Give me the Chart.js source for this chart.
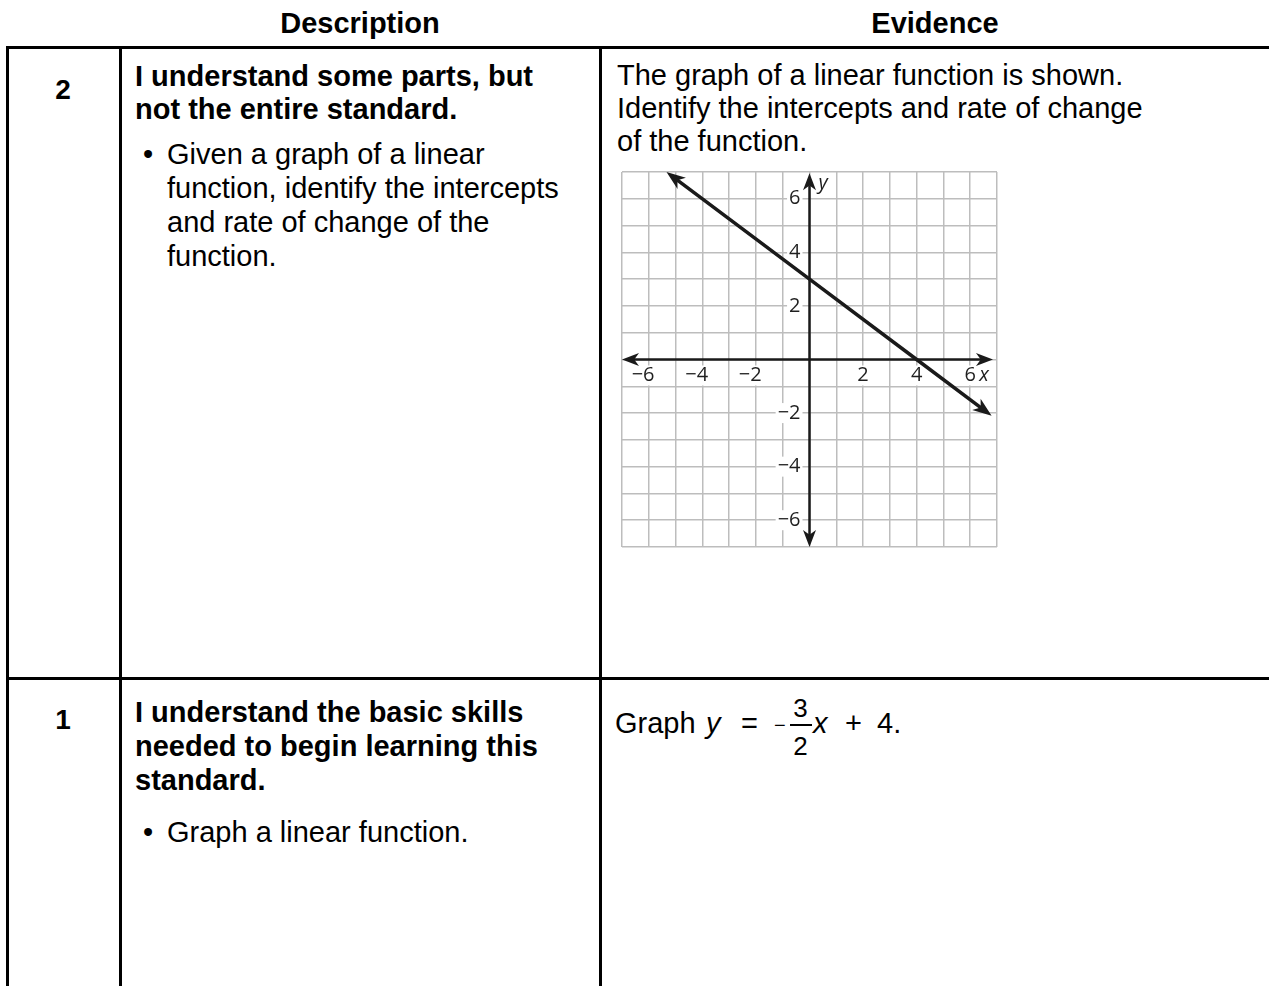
<!DOCTYPE html>
<html><head><meta charset="utf-8">
<script src="https://cdn.jsdelivr.net/npm/chart.js@4.4.0/dist/chart.umd.min.js"></script>
<style>
html,body{margin:0;padding:0;background:#fff;}
body{width:1269px;height:986px;overflow:hidden;position:relative;font-family:"Liberation Sans",Arial,sans-serif;color:#000;}
.t{position:absolute;white-space:nowrap;line-height:1;font-size:29px;}
.b{font-weight:bold;}
.hl{position:absolute;background:#000;height:3px;}
.vl{position:absolute;background:#000;width:3px;}
#gwrap{position:absolute;left:612px;top:162px;width:395px;height:395px;}
</style></head><body>

<div class="t b" style="left:120px;width:480px;text-align:center;top:8.5px;">Description</div>
<div class="t b" style="left:600px;width:670px;text-align:center;top:8.5px;">Evidence</div>

<div class="hl" style="left:6px;top:46px;width:1263px;"></div>
<div class="hl" style="left:6px;top:677px;width:1263px;"></div>
<div class="vl" style="left:6px;top:46px;height:940px;"></div>
<div class="vl" style="left:119px;top:46px;height:940px;"></div>
<div class="vl" style="left:599px;top:46px;height:940px;"></div>

<!-- row 2 -->
<div class="t b" style="left:7px;width:112px;text-align:center;top:76.3px;font-size:28px;">2</div>
<div class="t b" style="left:135px;top:61.5px;">I understand some parts, but</div>
<div class="t b" style="left:135px;top:94.5px;">not the entire standard.</div>
<div class="t" style="left:143px;top:140px;">•</div>
<div class="t" style="left:167px;top:140px;">Given a graph of a linear</div>
<div class="t" style="left:167px;top:174px;">function, identify the intercepts</div>
<div class="t" style="left:167px;top:207.5px;">and rate of change of the</div>
<div class="t" style="left:167px;top:241.5px;">function.</div>
<div class="t" style="left:617px;top:60.5px;">The graph of a linear function is shown.</div>
<div class="t" style="left:617px;top:93.5px;">Identify the intercepts and rate of change</div>
<div class="t" style="left:617px;top:126.5px;">of the function.</div>

<div id="gwrap"><canvas id="c" width="395" height="395"></canvas></div>

<!-- row 1 -->
<div class="t b" style="left:7px;width:112px;text-align:center;top:706.3px;font-size:28px;">1</div>
<div class="t b" style="left:135px;top:697.5px;">I understand the basic skills</div>
<div class="t b" style="left:135px;top:731.5px;">needed to begin learning this</div>
<div class="t b" style="left:135px;top:765.5px;">standard.</div>
<div class="t" style="left:143px;top:817.5px;">•</div>
<div class="t" style="left:167px;top:817.5px;">Graph a linear function.</div>

<div class="t" style="left:615px;top:708.5px;">Graph</div>
<div class="t" style="left:706px;top:708.5px;font-style:italic;">y</div>
<div class="t" style="left:741px;top:708.5px;">=</div>
<div class="t" style="left:774px;top:714.7px;font-size:20px;">−</div>
<div class="t" style="left:788px;width:25px;text-align:center;top:695px;font-size:26px;">3</div>
<div style="position:absolute;left:790px;top:724px;width:22px;height:1.6px;background:#000;"></div>
<div class="t" style="left:788px;width:25px;text-align:center;top:733px;font-size:26px;">2</div>
<div class="t" style="left:813px;top:708.5px;font-style:italic;">x</div>
<div class="t" style="left:845px;top:708.5px;">+</div>
<div class="t" style="left:877px;top:708.5px;">4.</div>

<script>
// ---- chart data ----
const xRange = [-7, 7];
const yRange = [-7, 7];
const xTickValues = [-6, -4, -2, 2, 4, 6];
const yTickValues = [-6, -4, -2, 2, 4, 6];
const xAxisEnds = [-7, 6.85];
const yAxisEnds = [-7, 6.95];
const lineX = [-5.07, 0, 4, 6.53];
const lineY = [6.8, 3, 0, -1.9];
const axisLabelX = 'x';
const axisLabelY = 'y';

const linePoints = lineX.map((x, i) => ({x: x, y: lineY[i]}));
const INK = '#1a1a1a';
const LABEL = '#1f1f1f';

function arrowHead(ctx, tipX, tipY, ang, len, half) {
  ctx.save();
  ctx.translate(tipX, tipY);
  ctx.rotate(ang);
  ctx.beginPath();
  ctx.moveTo(0, 0);
  ctx.lineTo(-len, -half);
  ctx.lineTo(-len * 0.72, 0);
  ctx.lineTo(-len, half);
  ctx.closePath();
  ctx.fillStyle = INK;
  ctx.fill();
  ctx.restore();
}

const decor = {
  id: 'decor',
  beforeDatasetsDraw(chart) {
    const ctx = chart.ctx;
    const xs = chart.scales.x, ys = chart.scales.y;
    const x0 = xs.getPixelForValue(0), y0 = ys.getPixelForValue(0);
    ctx.save();
    ctx.font = '20px "Open Sans", "DejaVu Sans", sans-serif';
    ctx.textBaseline = 'middle';
    ctx.textAlign = 'left';
    const cyX = y0 + 16;
    xTickValues.forEach(v => {
      const gx = xs.getPixelForValue(v);
      const digit = String(Math.abs(v));
      const minus = v < 0 ? '\u2212' : '';
      const dw = ctx.measureText(digit).width, mw = ctx.measureText(minus).width;
      const left = gx - dw / 2 - mw;
      ctx.fillStyle = '#fff';
      ctx.fillRect(left - 2, cyX - 10, dw + mw + 4, 20);
      ctx.fillStyle = LABEL;
      ctx.fillText(minus + digit, left, cyX);
    });
    yTickValues.forEach(v => {
      const gy = ys.getPixelForValue(v);
      const txt = (v < 0 ? '\u2212' : '') + String(Math.abs(v));
      const w = ctx.measureText(txt).width;
      const right = x0 - 9;
      ctx.fillStyle = '#fff';
      ctx.fillRect(right - w - 2, gy - 10, w + 4, 20);
      ctx.fillStyle = LABEL;
      ctx.fillText(txt, right - w, gy);
    });
    ctx.font = 'italic 20px "Open Sans", "DejaVu Sans", sans-serif';
    {
      const gx = xs.getPixelForValue(xTickValues[xTickValues.length - 1]);
      const w = ctx.measureText(axisLabelX).width;
      ctx.fillStyle = '#fff';
      ctx.fillRect(gx + 7, cyX - 10, w + 4, 20);
      ctx.fillStyle = LABEL;
      ctx.fillText(axisLabelX, gx + 9, cyX);
    }
    {
      const gy = ys.getPixelForValue(yRange[1]);
      const w = ctx.measureText(axisLabelY).width;
      ctx.fillStyle = '#fff';
      ctx.fillRect(x0 + 7, gy + 2, w + 4, 20);
      ctx.fillStyle = LABEL;
      ctx.fillText(axisLabelY, x0 + 9, gy + 11);
    }
    // axes with arrowheads
    const L = 17, H = 6.5;
    ctx.strokeStyle = INK;
    ctx.lineWidth = 2.5;
    const xa = xs.getPixelForValue(xAxisEnds[0]), xb = xs.getPixelForValue(xAxisEnds[1]);
    ctx.beginPath(); ctx.moveTo(xa + L * 0.7, y0); ctx.lineTo(xb - L * 0.7, y0); ctx.stroke();
    arrowHead(ctx, xa, y0, Math.PI, L, H);
    arrowHead(ctx, xb, y0, 0, L, H);
    const ya = ys.getPixelForValue(yAxisEnds[0]), yb = ys.getPixelForValue(yAxisEnds[1]);
    ctx.beginPath(); ctx.moveTo(x0, ya - L * 0.7); ctx.lineTo(x0, yb + L * 0.7); ctx.stroke();
    arrowHead(ctx, x0, ya, Math.PI / 2, L, H);
    arrowHead(ctx, x0, yb, -Math.PI / 2, L, H);
    ctx.restore();
  },
  afterDatasetsDraw(chart) {
    const ctx = chart.ctx;
    const pts = chart.getDatasetMeta(0).data;
    const n = pts.length;
    const L = 19, H = 7;
    const ends = [[pts[0], pts[1]], [pts[n - 1], pts[n - 2]]];
    ctx.save();
    ends.forEach(([e, p]) => {
      const ang = Math.atan2(e.y - p.y, e.x - p.x);
      const ext = 9;
      arrowHead(ctx, e.x + ext * Math.cos(ang), e.y + ext * Math.sin(ang), ang, L, H);
    });
    ctx.restore();
  }
};

const gridOpts = {color: '#bdbdbd', lineWidth: 1.5, drawTicks: false};
new Chart(document.getElementById('c'), {
  type: 'scatter',
  data: {
    datasets: [{
      data: linePoints,
      showLine: true,
      borderColor: INK,
      borderWidth: 3.5,
      pointRadius: 0,
      borderCapStyle: 'butt',
      clip: false
    }]
  },
  options: {
    responsive: false,
    animation: false,
    devicePixelRatio: 1,
    layout: {padding: 10},
    plugins: {legend: {display: false}, tooltip: {enabled: false}},
    scales: {
      x: {type: 'linear', min: xRange[0], max: xRange[1], ticks: {display: false, stepSize: 1}, grid: gridOpts, border: {display: false}},
      y: {type: 'linear', min: yRange[0], max: yRange[1], ticks: {display: false, stepSize: 1}, grid: gridOpts, border: {display: false}}
    }
  },
  plugins: [decor]
});
</script>
</body></html>
